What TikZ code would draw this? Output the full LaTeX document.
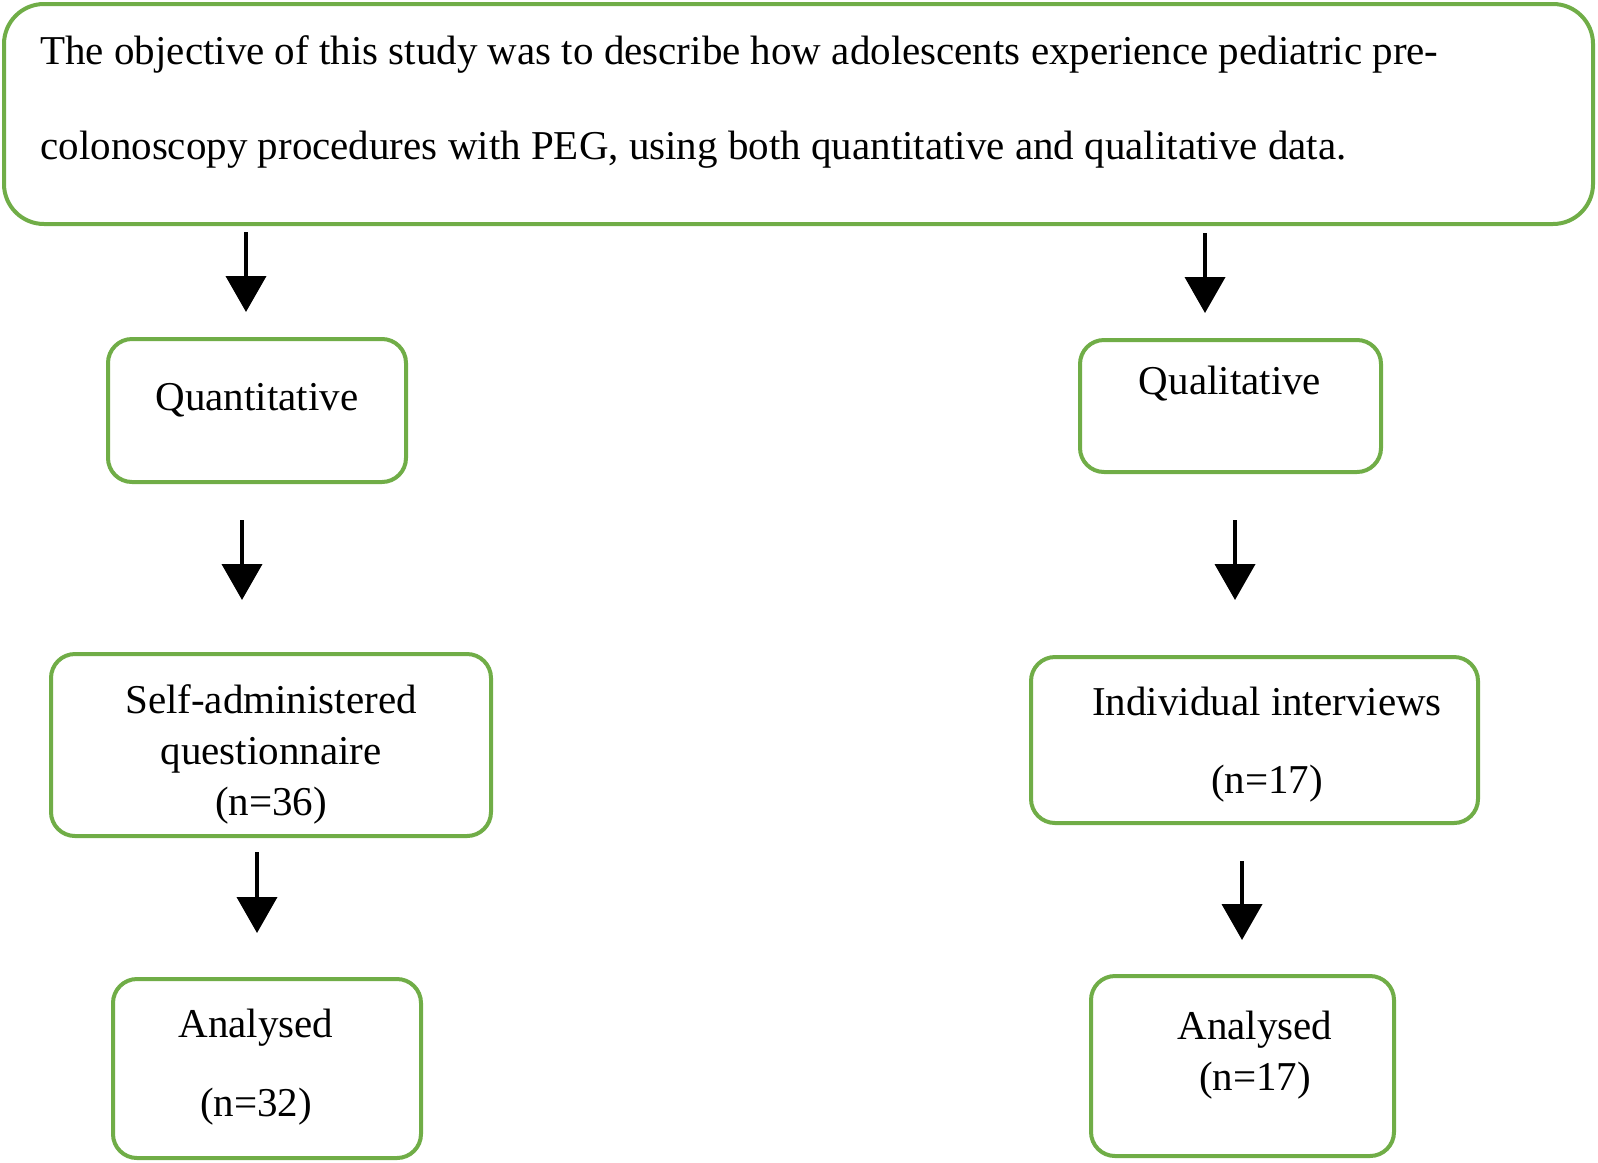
\documentclass[tikz,border=0pt]{standalone}
\usepackage{fontspec}
\setmainfont{Liberation Serif}
\usetikzlibrary{arrows.meta}
\definecolor{boxgreen}{RGB}{112,173,71}
\begin{document}
\begin{tikzpicture}[x=0.5pt,y=-0.5pt,
  box/.style={draw=boxgreen,line width=2pt,rounded corners=12pt,inner sep=0pt,outer sep=0pt,fill=white},
  txt/.style={font=\fontsize{20.5pt}{25pt}\selectfont,inner sep=0pt,anchor=base},
  arr/.style={line width=2pt,-{Triangle[length=18pt,width=20pt]}}]
\useasboundingbox (0,0) rectangle (1598,1162);
% boxes
\node[box,rounded corners=20pt,minimum width=794.5pt,minimum height=110pt] (top) at (798.5,114) {};
\node[box,minimum width=149pt,minimum height=71.5pt] (quant) at (257,410.5) {};
\node[box,minimum width=150.5pt,minimum height=66pt] (qual) at (1230.5,406) {};
\node[box,minimum width=220pt,minimum height=91pt] (self) at (271,745) {};
\node[box,minimum width=223.5pt,minimum height=83pt] (indiv) at (1254.5,740) {};
\node[box,minimum width=154pt,minimum height=89.5pt] (anl) at (267,1068.5) {};
\node[box,minimum width=151.5pt,minimum height=90pt] (anr) at (1242.5,1066) {};
% texts
\node[txt,anchor=base west] (t1) at (40,64) {The objective of this study was to describe how adolescents experience pediatric pre-};
\node[txt,anchor=base west] (t2) at (40,159) {colonoscopy procedures with PEG, using both quantitative and qualitative data.};
\node[txt] (tq) at (257,410) {Quantitative};
\node[txt] (tl) at (1230,394) {Qualitative};
\node[txt] (ts1) at (271,713) {Self-administered};
\node[txt] (ts2) at (271,764) {questionnaire};
\node[txt] (ts3) at (271,815) {(n=36)};
\node[txt] (ti1) at (1267,715) {Individual interviews};
\node[txt] (ti2) at (1267,793) {(n=17)};
\node[txt] (tal1) at (256,1037) {Analysed};
\node[txt] (tal2) at (256,1116) {(n=32)};
\node[txt] (tar1) at (1255,1039) {Analysed};
\node[txt] (tar2) at (1255,1090) {(n=17)};
% arrow ends
\coordinate (a1s) at (246,232); \coordinate (a1e) at (246,312);
\coordinate (a2s) at (1205,233); \coordinate (a2e) at (1205,313);
\coordinate (a3s) at (242,520); \coordinate (a3e) at (242,600);
\coordinate (a4s) at (1235,520); \coordinate (a4e) at (1235,600);
\coordinate (a5s) at (257,852); \coordinate (a5e) at (257,933);
\coordinate (a6s) at (1242,861); \coordinate (a6e) at (1242,940);
\draw[arr] (a1s) -- (a1e);
\draw[arr] (a2s) -- (a2e);
\draw[arr] (a3s) -- (a3e);
\draw[arr] (a4s) -- (a4e);
\draw[arr] (a5s) -- (a5e);
\draw[arr] (a6s) -- (a6e);
\end{tikzpicture}
\end{document}
